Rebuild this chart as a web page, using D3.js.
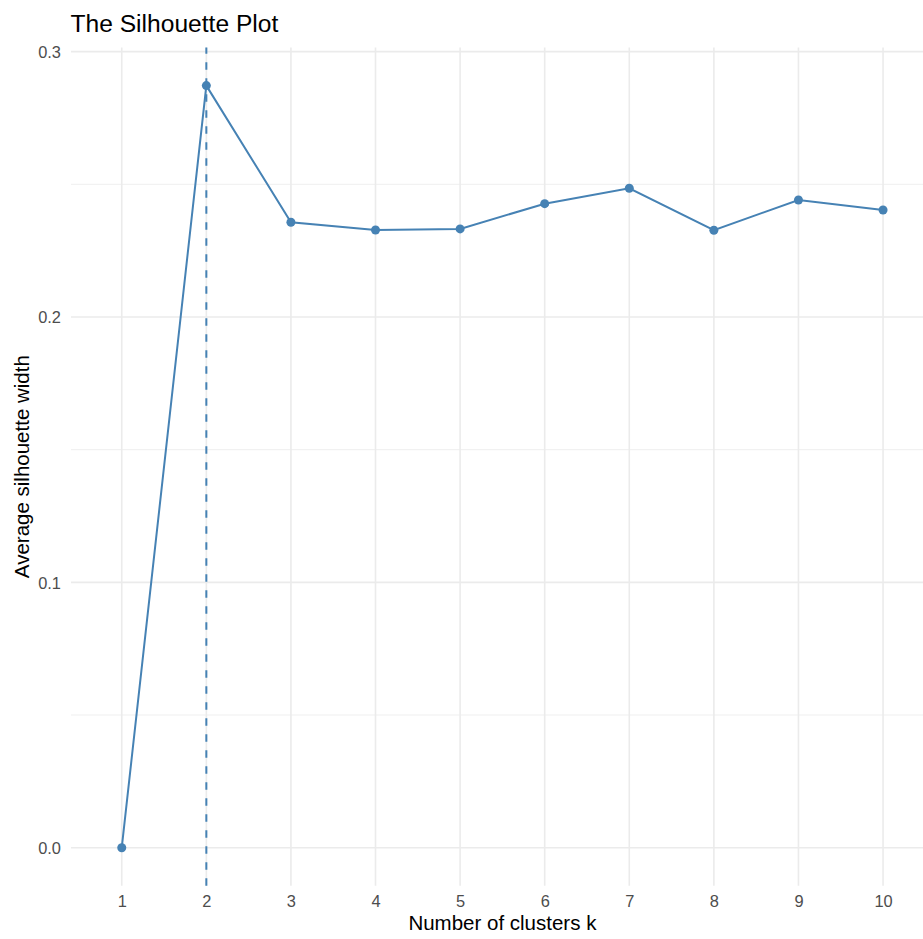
<!DOCTYPE html>
<html>
<head>
<meta charset="utf-8">
<script src="https://cdn.jsdelivr.net/npm/d3@7"></script>
<style>
  html, body { margin: 0; padding: 0; background: #ffffff; }
  svg { display: block; font-family: "Liberation Sans", Arial, Helvetica, sans-serif; }
</style>
</head>
<body>
<svg id="chart" width="923" height="939"></svg>
<script>
// ---- Data ----
const clusters = [1, 2, 3, 4, 5, 6, 7, 8, 9, 10];
const silhouette = [0.0, 0.2872, 0.2357, 0.2328, 0.2332, 0.2427, 0.2485, 0.2327, 0.2441, 0.2403];
const optimalK = 2;
const yTicks = [0.0, 0.1, 0.2, 0.3];
const yMinorTicks = [0.05, 0.15, 0.25];
const titleText = "The Silhouette Plot";
const xTitle = "Number of clusters k";
const yTitle = "Average silhouette width";

// ---- Layout ----
const W = 923, H = 939;
const panel = { left: 71, right: 933.8, top: 47.5, bottom: 885.8 };
const lineColor = "#4682B4";
const gridColor = "#EBEBEB";

const svg = d3.select("#chart");

// discrete x axis: 0.6 unit expansion each side
const x = d3.scaleLinear()
  .domain([clusters[0] - 0.6, clusters[clusters.length - 1] + 0.6])
  .range([panel.left, panel.right]);

const yMax = d3.max(silhouette), yMin = d3.min(silhouette);
const pad = (yMax - yMin) * 0.05;
const y = d3.scaleLinear()
  .domain([yMin - pad, yMax + pad])
  .range([panel.bottom, panel.top]);

// ---- Grid ----
const grid = svg.append("g");
grid.selectAll("line.minor").data(yMinorTicks).enter().append("line")
  .attr("x1", panel.left).attr("x2", panel.right)
  .attr("y1", d => y(d)).attr("y2", d => y(d))
  .attr("stroke", gridColor).attr("stroke-width", 0.8);
grid.selectAll("line.majory").data(yTicks).enter().append("line")
  .attr("x1", panel.left).attr("x2", panel.right)
  .attr("y1", d => y(d)).attr("y2", d => y(d))
  .attr("stroke", gridColor).attr("stroke-width", 1.6);
grid.selectAll("line.majorx").data(clusters).enter().append("line")
  .attr("x1", d => x(d)).attr("x2", d => x(d))
  .attr("y1", panel.top).attr("y2", panel.bottom)
  .attr("stroke", gridColor).attr("stroke-width", 1.6);

// ---- Axes (labels via d3 axes, no domain/ticks lines) ----
const xAxis = d3.axisBottom(x).tickValues(clusters).tickSize(0).tickPadding(0).tickFormat(d3.format("d"));
const gx = svg.append("g").attr("transform", `translate(0, ${panel.bottom})`).call(xAxis);
gx.select(".domain").remove();
gx.selectAll("text")
  .attr("y", 21.5).attr("dy", null)
  .attr("fill", "#4D4D4D").attr("font-size", "16.4px")
  .attr("font-family", "Liberation Sans, Arial, sans-serif");

const yAxis = d3.axisLeft(y).tickValues(yTicks).tickSize(0).tickPadding(0).tickFormat(d3.format(".1f"));
const gy = svg.append("g").attr("transform", `translate(${panel.left}, 0)`).call(yAxis);
gy.select(".domain").remove();
gy.selectAll("text")
  .attr("x", -10).attr("dy", "0.36em")
  .attr("fill", "#4D4D4D").attr("font-size", "16.4px")
  .attr("font-family", "Liberation Sans, Arial, sans-serif");

// ---- Dashed vertical line at optimal k ----
svg.append("line")
  .attr("x1", x(optimalK)).attr("x2", x(optimalK))
  .attr("y1", panel.bottom).attr("y2", panel.top)
  .attr("stroke", lineColor).attr("stroke-width", 2)
  .attr("stroke-dasharray", "7.5,8.5");

// ---- Line + points ----
const pts = clusters.map((k, i) => ({ k, v: silhouette[i] }));
svg.append("path")
  .datum(pts)
  .attr("fill", "none")
  .attr("stroke", lineColor)
  .attr("stroke-width", 2)
  .attr("d", d3.line().x(d => x(d.k)).y(d => y(d.v)));

svg.selectAll("circle.pt").data(pts).enter().append("circle")
  .attr("cx", d => x(d.k)).attr("cy", d => y(d.v))
  .attr("r", 4.5).attr("fill", lineColor);

// ---- Titles ----
svg.append("text")
  .attr("x", 70.5).attr("y", 31.7)
  .attr("font-size", "24.6px").attr("fill", "#000")
  .text(titleText);

svg.append("text")
  .attr("x", (panel.left + panel.right) / 2).attr("y", 930)
  .attr("text-anchor", "middle")
  .attr("font-size", "20.5px").attr("fill", "#000")
  .text(xTitle);

svg.append("text")
  .attr("transform", `translate(28.5, ${(panel.top + panel.bottom) / 2}) rotate(-90)`)
  .attr("text-anchor", "middle")
  .attr("font-size", "20.5px").attr("fill", "#000")
  .text(yTitle);
</script>
</body>
</html>
